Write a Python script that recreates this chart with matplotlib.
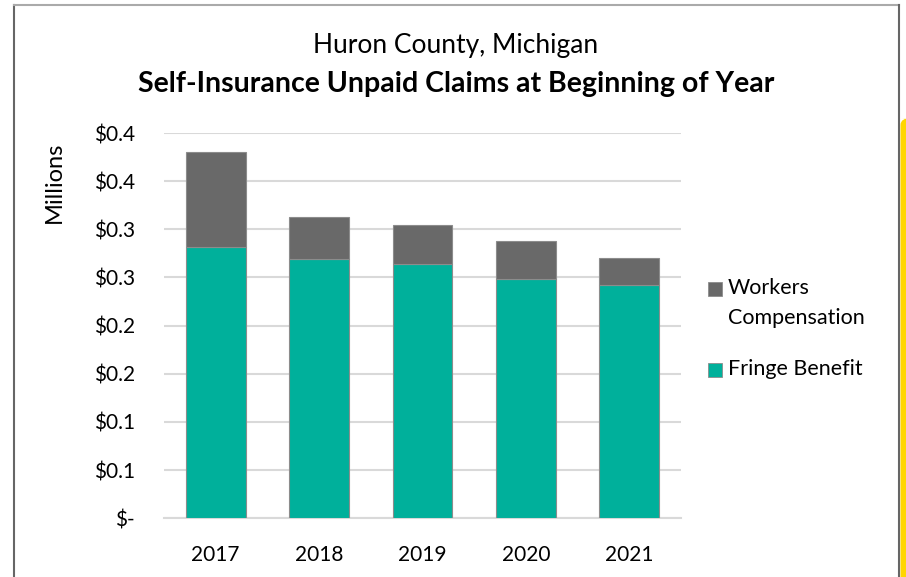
import matplotlib
matplotlib.use("Agg")
import matplotlib.pyplot as plt
from matplotlib.patches import Rectangle, FancyBboxPatch
import numpy as np

plt.rcParams['font.family'] = ['Lato', 'DejaVu Sans']

years = ["2017", "2018", "2019", "2020", "2021"]
fringe_benefit = [0.282, 0.269, 0.264, 0.248, 0.242]
workers_comp = [0.098, 0.044, 0.041, 0.040, 0.028]
ytick_values = [0, 0.05, 0.10, 0.15, 0.20, 0.25, 0.30, 0.35, 0.40]
ytick_labels = ["$-", "$0.1", "$0.1", "$0.2", "$0.2", "$0.3", "$0.3", "$0.4", "$0.4"]
series_names = ["Workers\nCompensation", "Fringe Benefit"]
fringe_color = '#00B09B'
workers_color = '#696969'

W, H = 906, 577
fig = plt.figure(figsize=(W / 100, H / 100), dpi=100)

# outer frame
fig.add_artist(plt.Line2D([14 / W, 14 / W], [0, 1 - 5 / H], color='#666666', lw=1.5, transform=fig.transFigure))
fig.add_artist(plt.Line2D([14 / W, 899 / W], [1 - 5 / H, 1 - 5 / H], color='#aaaaaa', lw=1.5, transform=fig.transFigure))
fig.add_artist(plt.Line2D([899 / W, 899 / W], [0, 1 - 5 / H], color='#666666', lw=1.5, transform=fig.transFigure))
fig.add_artist(FancyBboxPatch((900.5 / W, -0.05), 12 / W, (H - 118) / H + 0.05,
                              boxstyle="round,pad=0,rounding_size=0.012",
                              facecolor='#FFD600', edgecolor='none', transform=fig.transFigure))

left, right = 164 / W, 681 / W
bottom, top = (H - 518.3) / H, (H - 133) / H
ax = fig.add_axes([left, bottom, right - left, top - bottom])

x = np.arange(len(years))
bw = 0.58
ax.bar(x, fringe_benefit, width=bw, color=fringe_color, edgecolor='#8c8c8c', linewidth=0.8, zorder=3)
ax.bar(x, workers_comp, width=bw, bottom=fringe_benefit, color=workers_color, edgecolor='#8c8c8c',
       linewidth=0.8, zorder=3)

ax.set_xlim(-0.5, len(years) - 0.5)
ax.set_ylim(0, 0.4)
ax.set_yticks(ytick_values)
ax.set_yticklabels(ytick_labels)
ax.set_xticks(x)
ax.set_xticklabels(years)
ax.tick_params(axis='both', length=0, labelsize=15, colors='#000000')
ax.tick_params(axis='y', pad=21)
ax.tick_params(axis='x', pad=19)

ax.grid(axis='y', color='#D9D9D9', linewidth=1.5, zorder=0)
for s in ['top', 'right', 'left']:
    ax.spines[s].set_visible(False)
ax.spines['bottom'].set_color('#D9D9D9')
ax.spines['bottom'].set_linewidth(1.5)

ax.set_ylabel('Millions', fontsize=17)
ax.yaxis.set_label_coords((65 - 164) / 517, (518.3 - 182) / 385.3)

fig.text(456 / W, 1 - 45 / H, 'Huron County, Michigan', ha='center', va='center', fontsize=19)
fig.text(456 / W, 1 - 84 / H, 'Self-Insurance Unpaid Claims at Beginning of Year', ha='center', va='center',
         fontsize=20.5, fontweight='bold')

# legend
leg_items = [(series_names[0], workers_color, 289), (series_names[1], fringe_color, 370)]
for name, col, yc in leg_items:
    fig.add_artist(Rectangle((708 / W, 1 - (yc + 7) / H), 14 / W, 14 / H, facecolor=col,
                             edgecolor='#8c8c8c', linewidth=0.6, transform=fig.transFigure))
    fig.text(728 / W, 1 - (yc - 11) / H, name, ha='left', va='top', fontsize=15.5, linespacing=1.6)

fig.savefig('out.png', dpi=100)
